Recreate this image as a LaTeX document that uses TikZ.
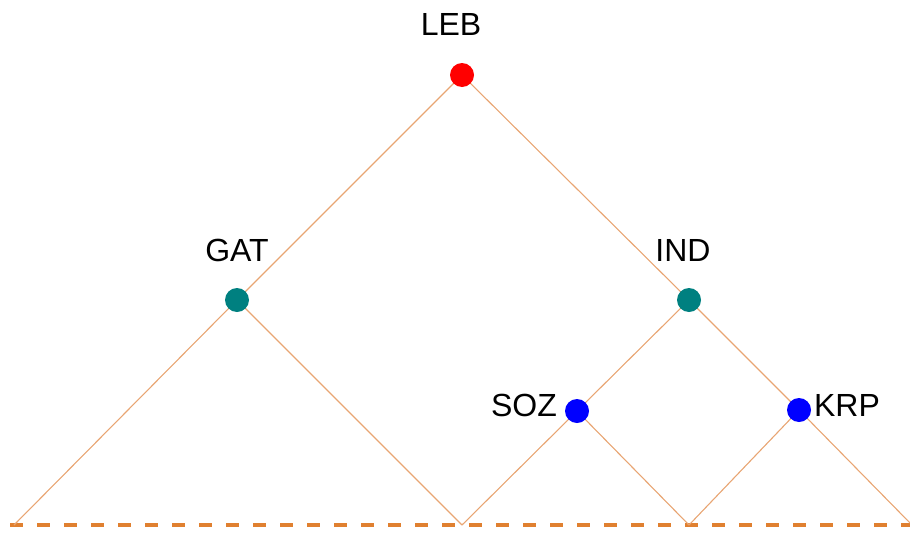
\documentclass[tikz,border=0pt]{standalone}
\usepackage{fontspec}
\setmainfont{Liberation Sans}
\definecolor{edgec}{RGB}{232,165,115}
\definecolor{basec}{RGB}{224,128,48}
\definecolor{tealc}{RGB}{0,128,128}
\tikzset{
  dot/.style={circle, inner sep=0pt, minimum size=24pt},
  lbl/.style={font=\fontsize{32}{36}\selectfont, inner sep=0pt, anchor=center},
  edge/.style={draw=edgec, line width=1.1pt},
  base/.style={draw=basec, line width=3.5pt, dash pattern=on 13pt off 14pt}
}
\begin{document}
\begin{tikzpicture}[x=1pt,y=-1pt]
\useasboundingbox (0,0) rectangle (910,533);
\coordinate (b0) at (14,525);
\coordinate (b1) at (462,525);
\coordinate (b2) at (689,525);
\coordinate (b3) at (912,525);
\coordinate (bs) at (10,525);
\coordinate (be) at (910,525);
\coordinate (pLEB) at (462,75);
\coordinate (pGAT) at (237,300);
\coordinate (pIND) at (689,300);
\coordinate (pSOZ) at (577,411);
\coordinate (pKRP) at (799,410);
\draw[base] (bs) -- (be);
\draw[edge] (pLEB) -- (pGAT);
\draw[edge] (pLEB) -- (pIND);
\draw[edge] (pGAT) -- (b0);
\draw[edge] (pGAT) -- (b1);
\draw[edge] (pIND) -- (pSOZ);
\draw[edge] (pIND) -- (pKRP);
\draw[edge] (pSOZ) -- (b1);
\draw[edge] (pSOZ) -- (b2);
\draw[edge] (pKRP) -- (b2);
\draw[edge] (pKRP) -- (b3);
\node[dot, fill=red] (LEB) at (pLEB) {};
\node[dot, fill=tealc] (GAT) at (pGAT) {};
\node[dot, fill=tealc] (IND) at (pIND) {};
\node[dot, fill=blue] (SOZ) at (pSOZ) {};
\node[dot, fill=blue] (KRP) at (pKRP) {};
\node[lbl] (tLEB) at (451,24) {LEB};
\node[lbl] (tGAT) at (237,250) {GAT};
\node[lbl] (tIND) at (683,250) {IND};
\node[lbl] (tSOZ) at (524,405) {SOZ};
\node[lbl] (tKRP) at (847,405) {KRP};
\end{tikzpicture}
\end{document}
